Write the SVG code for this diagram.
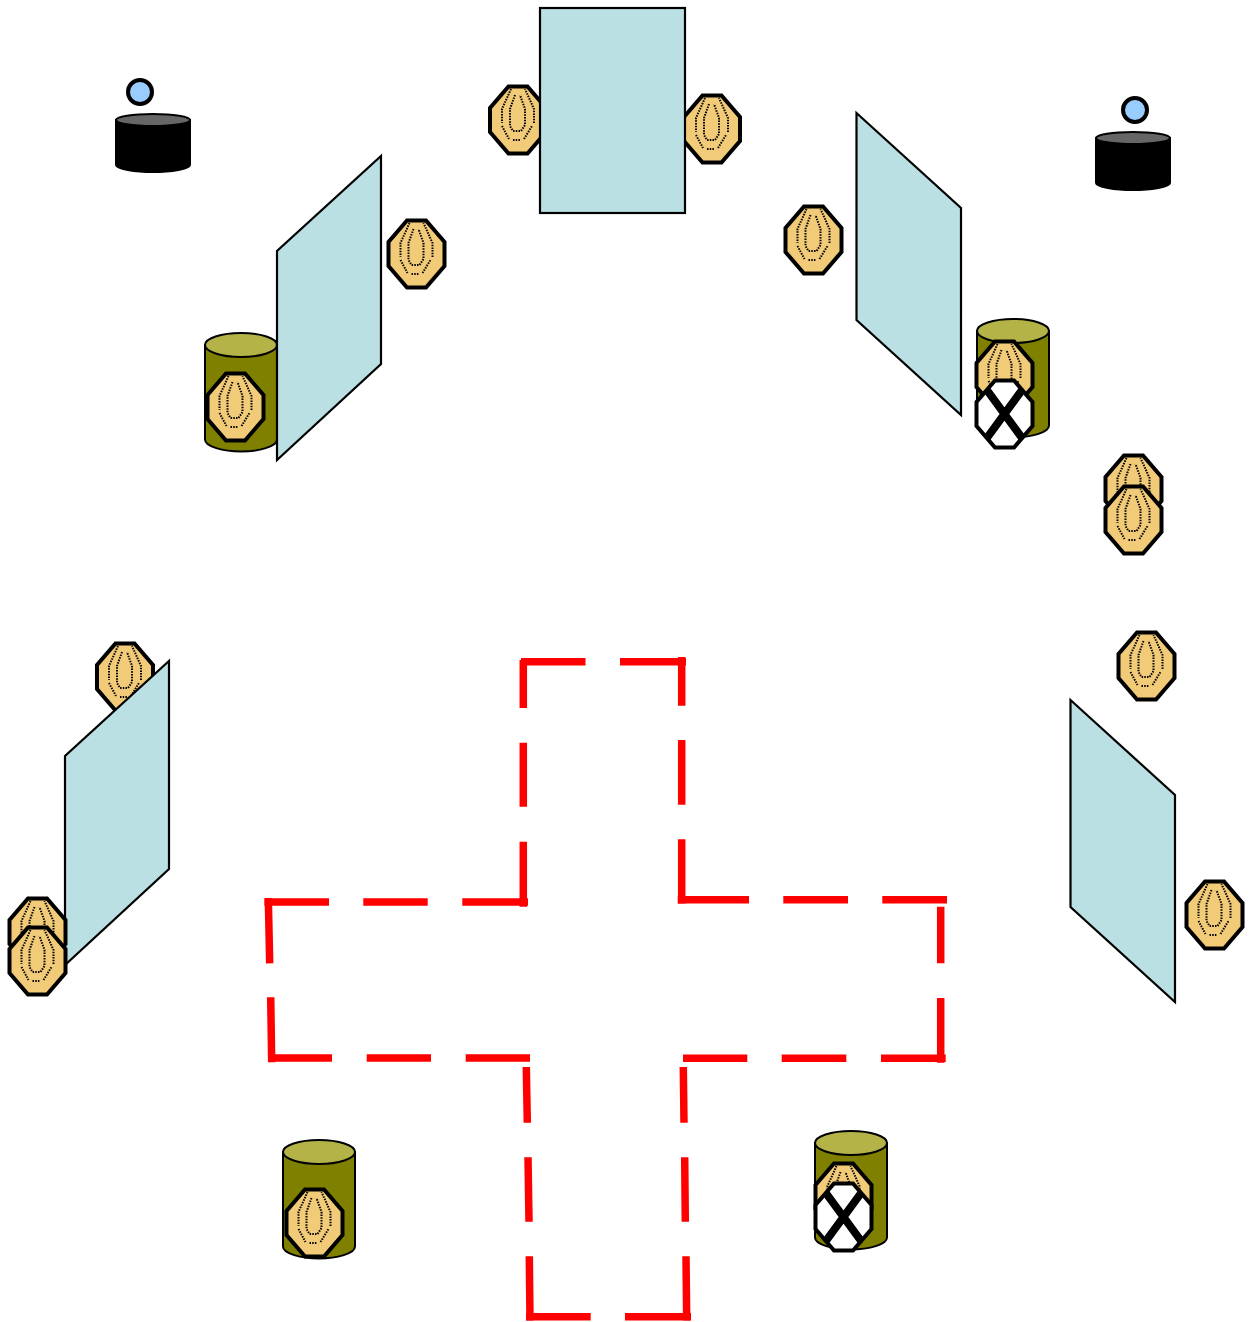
<svg xmlns="http://www.w3.org/2000/svg" width="1251" height="1322" viewBox="0 0 1251 1322">
<style>
.pane{fill:#bae0e3;stroke:#000;stroke-width:2.2}
.oct{fill:#f2cb78;stroke:#000;stroke-width:4;stroke-linejoin:miter}
.dots{fill:none;stroke:#000;stroke-width:2;stroke-dasharray:1.5 1.2}
.xo{fill:#fff;stroke:none}
.xe{fill:none;stroke:#000;stroke-width:4;stroke-linejoin:miter}
.xx{stroke:#000;stroke-width:8;fill:none}
.cb{fill:#808000;stroke:#000;stroke-width:2}
.ct{fill:#b3b347;stroke:#000;stroke-width:2}
.bb{fill:#000;stroke:#000;stroke-width:2}
.bt{fill:#666;stroke:#000;stroke-width:2}
.head{fill:#99ccff;stroke:#000;stroke-width:4}
.red{fill:none;stroke:#f00;stroke-width:7.5}
</style>
<defs>
<polygon id="octshape" points="-9.5,-33.5 9.5,-33.5 28,-12 28,12 9.5,33.5 -9.5,33.5 -28,12 -28,-12"/>
<clipPath id="octclip"><polygon points="-9.5,-33.5 9.5,-33.5 28,-12 28,12 9.5,33.5 -9.5,33.5 -28,12 -28,-12"/></clipPath>
<g id="unit">
<use href="#octshape" class="oct"/>
<path class="dots" d="M-7,-31L-16,-11V3M-16,6L-9,19M-5,20H2M6,19L14,6M16,3V-11L7,-31"/>
<path class="dots" d="M-3,-25L-8,-11V6L-5,11H3L7,5V-11L2,-25"/>
</g>
<g id="cross">
<use href="#octshape" class="xo"/>
<path class="xx" clip-path="url(#octclip)" d="M-22,-30L22,30M22,-30L-22,30"/>
<use href="#octshape" class="xe"/>
</g>
<g id="can">
<path class="cb" d="M-36,-47V47.5C-36,54.5 -18,59.5 0,59.5C18,59.5 36,54.5 36,47.5V-47Z"/>
<ellipse class="ct" cx="0" cy="-47" rx="36" ry="12"/>
</g>
<g id="blackcan">
<path class="bb" d="M-37,-23V22C-37,26 -18,29 0,29C18,29 37,26 37,22V-23Z"/>
<ellipse class="bt" cx="0" cy="-23" rx="37" ry="6"/>
</g>
</defs>
<g id="connectors">
<path class="red" d="M585.5,661.7H521M523.3,660V708M523.3,742.7V806.7M523.3,841.7V906.7M528,902H462.3M427.7,902H363.3M329,902H264.3M268.3,898L269.7,963.3M270.7,997.3L271.7,1062.3M268,1058H332M366.7,1058H431M465.7,1058H530M526.3,1067L527.3,1122.7M528,1157.3L529,1221.7M529.3,1256.3L530,1320.7M526,1316.7H590.7M625,1316.7H691M686.7,1320.7L686,1256.3M685.3,1221.7L684.7,1157.3M684,1122.7L683.3,1067M683,1058.3H747.3M781.7,1058.3H846.3M881,1058.3H945.7M940.7,1062.7V998M940.7,963.3V906.7M947,899.7H882.3M848,899.7H783.3M749,899.7H677.7M681.7,903.7V839.3M681.7,804.7V740M681.7,705.7V657M686,661.7H620"/>
</g>
<g id="can-left"><use href="#can" x="241" y="392"/></g>
<g id="can-right"><use href="#can" x="1013" y="378"/></g>
<g id="can-bottom-left"><use href="#can" x="319" y="1199"/></g>
<g id="can-bottom-right"><use href="#can" x="851" y="1190"/></g>
<g id="unit-1"><use href="#unit" x="518" y="120"/></g>
<g id="unit-2"><use href="#unit" x="712" y="129"/></g>
<g id="pane-top"><rect class="pane" x="540" y="8" width="145" height="205"/></g>
<g id="pane-upper-left"><polygon class="pane" points="381,156 381,364 277,460 277,251"/></g>
<g id="pane-upper-right"><polygon class="pane" points="856.5,113 961,208 961,415 856.5,320"/></g>
<g id="unit-left-top"><use href="#unit" x="125" y="677"/></g>
<g id="pane-lower-left"><polygon class="pane" points="169,661 169,869 65,965 65,756"/></g>
<g id="pane-lower-right"><polygon class="pane" points="1070.5,700 1175,795 1175,1002 1070.5,907"/></g>
<g id="person-left"><circle class="head" cx="140" cy="92" r="12"/><use href="#blackcan" x="153" y="143"/></g>
<g id="person-right"><circle class="head" cx="1135" cy="110" r="12"/><use href="#blackcan" x="1133" y="161"/></g>
<g id="unit-3"><use href="#unit" x="416.5" y="254"/></g>
<g id="unit-4"><use href="#unit" x="813.5" y="240"/></g>
<g id="unit-5"><use href="#unit" x="235.5" y="407"/></g>
<g id="unit-6"><use href="#unit" x="1004.5" y="375"/></g>
<g id="cross-1"><use href="#cross" x="1004.5" y="414"/></g>
<g id="unit-7"><use href="#unit" x="1133.5" y="489"/></g>
<g id="unit-8"><use href="#unit" x="1133.5" y="520"/></g>
<g id="unit-9"><use href="#unit" x="1146.5" y="666"/></g>
<g id="unit-10"><use href="#unit" x="1214.5" y="915"/></g>
<g id="unit-11"><use href="#unit" x="37.5" y="932"/></g>
<g id="unit-12"><use href="#unit" x="37.5" y="961"/></g>
<g id="unit-13"><use href="#unit" x="314.5" y="1223"/></g>
<g id="unit-14"><use href="#unit" x="843.5" y="1197"/></g>
<g id="cross-2"><use href="#cross" x="843.5" y="1217"/></g>
</svg>
